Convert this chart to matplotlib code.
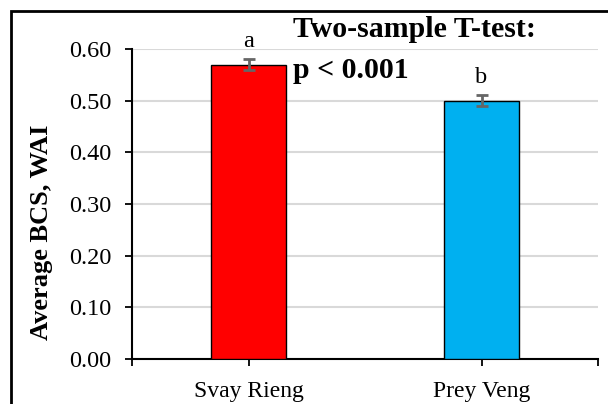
import matplotlib.pyplot as plt
from matplotlib.patches import Rectangle

plt.rcParams['font.family'] = ['Liberation Serif', 'DejaVu Serif']

# Data
districts = ['Svay Rieng', 'Prey Veng']
bcs_mean = [0.57, 0.50]
bcs_err = [0.011, 0.010]
letters = ['a', 'b']
letter_y = [0.604, 0.534]
bar_colors = ['#FF0000', '#00B0F0']
y_ticks = [0.0, 0.1, 0.2, 0.3, 0.4, 0.5, 0.6]

fig = plt.figure(figsize=(6.08, 4.04), dpi=100)
ax = fig.add_axes([132 / 608, 45 / 404, 466 / 608, 310 / 404])

x = list(range(len(districts)))
ax.bar(x, bcs_mean, width=0.32, color=bar_colors, edgecolor='black',
       linewidth=1.0, zorder=3)
ax.errorbar(x, bcs_mean, yerr=bcs_err, fmt='none', ecolor='#666666',
            elinewidth=2, capsize=4.3, capthick=2, zorder=4)

for xi, lab, ly in zip(x, letters, letter_y):
    ax.text(xi, ly, lab, ha='center', va='baseline', fontsize=17.5)

ax.set_xlim(-0.5, 1.5)
ax.set_ylim(0, 0.6)
ax.set_yticks(y_ticks)
ax.set_yticklabels([f'{v:.2f}' for v in y_ticks], fontsize=17.5)
ax.set_xticks([-0.5, 0, 1, 1.5])
ax.set_xticklabels(['', districts[0], districts[1], ''], fontsize=17)
ax.tick_params(axis='both', direction='out', length=5, width=1.3, color='black')
ax.tick_params(axis='y', pad=10)
ax.tick_params(axis='x', pad=11)
ax.grid(axis='y', color='#d9d9d9', linewidth=1.5, zorder=0)
ax.set_axisbelow(True)
for side in ['top', 'right']:
    ax.spines[side].set_visible(False)
for side in ['left', 'bottom']:
    ax.spines[side].set_linewidth(1.5)

ax.set_ylabel('Average BCS, WAI', fontsize=19, fontweight='bold')
ax.yaxis.set_label_coords(-0.17, 0.41)

fig.text(293 / 608, 1 - 37 / 404, 'Two-sample T-test:', fontsize=21.5,
         fontweight='bold', ha='left', va='baseline')
fig.text(293 / 608, 1 - 78 / 404, 'p < 0.001', fontsize=21.5,
         fontweight='bold', ha='left', va='baseline')

# outer chart border (cut off on the right and bottom)
fig.patches.append(Rectangle((11 / 608, -0.1), 1.2, 1.1 - 11 / 404,
                             transform=fig.transFigure, fill=False,
                             edgecolor='black', linewidth=2))

fig.savefig('out.png', dpi=100)
